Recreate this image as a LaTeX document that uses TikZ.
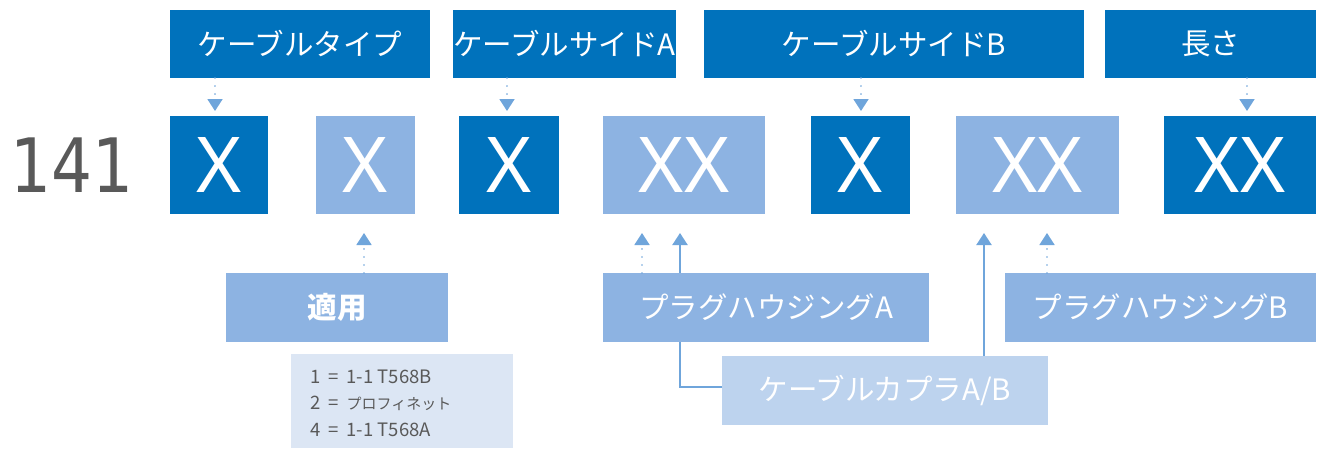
\documentclass[tikz,border=0pt]{standalone}
\usepackage{graphicx}
\usepackage{fontspec}
\setmainfont{Noto Sans CJK JP}
\newfontfamily\xfont{Noto Sans}
\newfontfamily\numfont{DejaVu Sans}
\usetikzlibrary{arrows.meta,calc}
\definecolor{dkblue}{RGB}{0,114,188}
\definecolor{ltblue}{RGB}{141,179,226}
\definecolor{cpblue}{RGB}{189,211,238}
\definecolor{noteblue}{RGB}{220,230,244}
\definecolor{arrowblue}{RGB}{111,165,219}
\definecolor{numgray}{RGB}{89,89,89}
\newcommand{\eqgap}{\hspace{8pt}=\hspace{8pt}}
\begin{document}
\begin{tikzpicture}[x=1pt,y=-1pt,
  base/.style={inner sep=0pt, outer sep=0pt, anchor=north west, text=white},
  dkbox/.style={base, fill=dkblue},
  ltbox/.style={base, fill=ltblue},
  cpbox/.style={base, fill=cpblue},
  lbl/.style={font=\fontsize{29.5}{34}\selectfont},
  toprow/.style={minimum height=68pt},
  midrow/.style={minimum height=98pt, font=\xfont\fontsize{77}{80}\selectfont},
  lowrow/.style={minimum height=69pt},
  dotarrow/.style={draw=arrowblue, line width=1.8pt, line cap=round, dash pattern=on 0.01pt off 8pt, -{Triangle[width=15pt,length=12pt]}},
  solidarrow/.style={draw=arrowblue, line width=2pt, -{Triangle[width=15pt,length=12pt]}},
]
\fill[white] (0,0) rectangle (1326,448);
\useasboundingbox (0,0) rectangle (1326,448);

% top labels
\node[dkbox, toprow, lbl, minimum width=260pt] (t1) at (170,10) {ケーブルタイプ};
\node[dkbox, toprow, lbl, minimum width=222pt] (t2) at (453,10) {ケーブルサイドA};
\node[dkbox, toprow, lbl, minimum width=380pt] (t3) at (704,10) {ケーブルサイドB};
\node[dkbox, toprow, lbl, minimum width=211pt] (t4) at (1105,10) {長さ};

% number
\node[text=numgray, font=\numfont\fontsize{75}{80}\selectfont, inner sep=0pt] (num) at (72,165) {\scalebox{0.86}[1]{141}};

% code row
\node[dkbox, midrow, minimum width=98pt] (x1) at (170,116) {X};
\node[ltbox, midrow, minimum width=99pt] (x2) at (316,116) {X};
\node[dkbox, midrow, minimum width=100pt] (x3) at (459,116) {X};
\node[ltbox, midrow, minimum width=162pt] (x4) at (603,116) {XX};
\node[dkbox, midrow, minimum width=99pt] (x5) at (811,116) {X};
\node[ltbox, midrow, minimum width=163pt] (x6) at (956,116) {XX};
\node[dkbox, midrow, minimum width=152pt] (x7) at (1164,116) {XX};

% lower labels
\node[ltbox, lowrow, lbl, minimum width=222pt] (ap) at (226,273) {\bfseries 適用};
\node[ltbox, lowrow, lbl, minimum width=311pt] (hB) at (1005,273) {プラグハウジングB};
\node[cpbox, lowrow, lbl, minimum width=326pt] (cp) at (722,356) {ケーブルカプラA/B};

% note
\node[base, fill=noteblue, minimum width=222pt, minimum height=94pt] (note) at (291,354) {};
\node[anchor=west, inner sep=0pt, text=numgray, align=left, font=\fontsize{18.5}{26.5}\selectfont] (notetext) at (310,403)
  {1\eqgap 1-1 T568B\\2\eqgap{\fontsize{15}{26.5}\selectfont プロフィネット}\\4\eqgap 1-1 T568A};

% solid connector behind plug housing A
\draw[solidarrow, shorten >=19pt] ([yshift=4pt]cp.west) -| (680,0 |- x4.south);
\node[ltbox, lowrow, lbl, minimum width=326pt] (hA) at (603,273) {プラグハウジングA};

% top arrows
\draw[dotarrow, shorten >=5pt] (215,0 |- t1.south) -- (215,0 |- x1.north);
\draw[dotarrow, shorten >=5pt] (507,0 |- t2.south) -- (507,0 |- x3.north);
\draw[dotarrow, shorten >=5pt] (861,0 |- t3.south) -- (861,0 |- x5.north);
\draw[dotarrow, shorten >=5pt] (1247,0 |- t4.south) -- (1247,0 |- x7.north);

% bottom arrows
\draw[dotarrow, shorten >=19pt] (364,0 |- ap.north) -- (364,0 |- x2.south);
\draw[dotarrow, shorten >=19pt] (642,0 |- hA.north) -- (642,0 |- x4.south);
\draw[dotarrow, shorten >=19pt] (1047,0 |- hB.north) -- (1047,0 |- x6.south);
\draw[solidarrow, shorten >=19pt] (984,0 |- cp.north) -- (984,0 |- x6.south);
\end{tikzpicture}
\end{document}
